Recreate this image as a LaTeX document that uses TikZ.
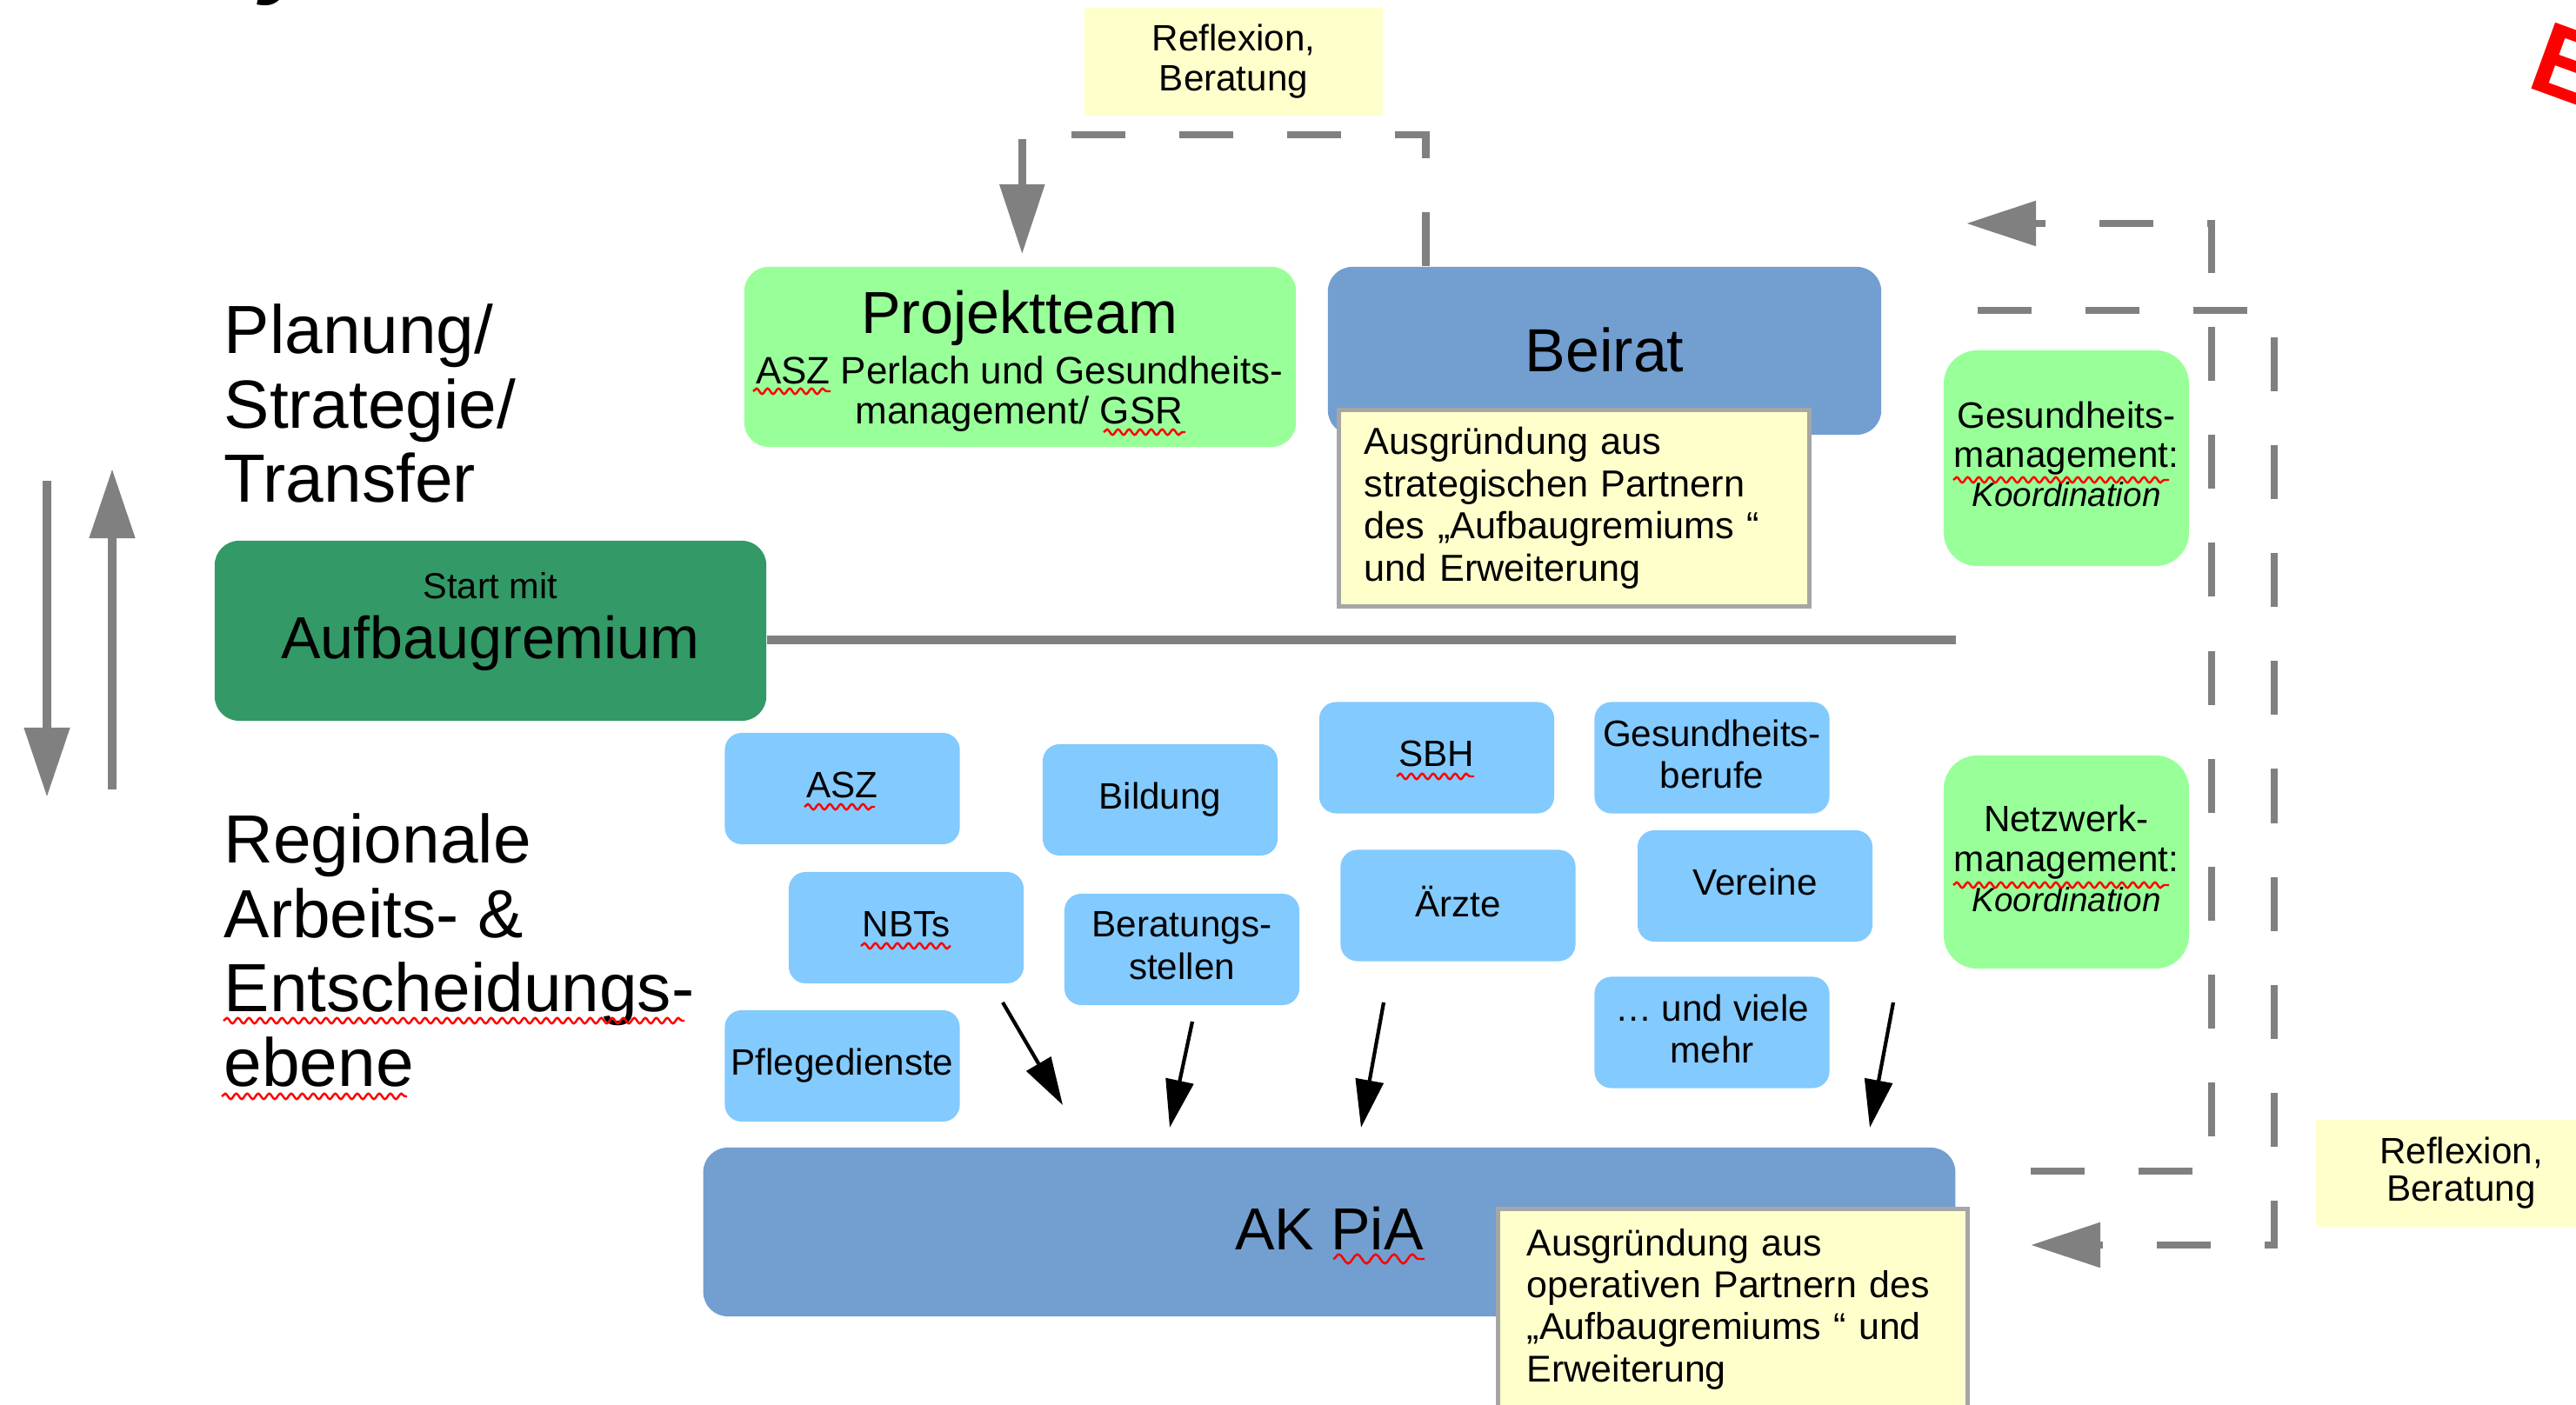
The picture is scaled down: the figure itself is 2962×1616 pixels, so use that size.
\documentclass[tikz,border=0pt]{standalone}
\usepackage{fontspec}
\setmainfont{Liberation Sans}
\usetikzlibrary{arrows.meta,decorations.pathmorphing,calc}
\definecolor{lgreen}{HTML}{99FF99}
\definecolor{dgreen}{HTML}{339966}
\definecolor{bblue}{HTML}{729FCF}
\definecolor{lblue}{HTML}{83CAFF}
\definecolor{nyellow}{HTML}{FFFFCC}
\definecolor{lgray}{HTML}{808080}
\definecolor{ngray}{HTML}{A6A6A6}
\newcommand{\fsz}[2]{\fontsize{#1pt}{#2pt}\selectfont}
\newcommand{\sst}{\rule[-2.5pt]{0pt}{9.5pt}}
\begin{document}
\begin{tikzpicture}[x=0.01cm,y=-0.01cm,
  smallbox/.style={rectangle,rounded corners=5.5pt,fill=lblue,minimum width=2.70cm,minimum height=1.28cm,inner sep=0pt,align=center,font=\fsz{12}{13.8}},
  bigbox/.style={rectangle,rounded corners=8pt,inner sep=0pt},
  gmbox/.style={rectangle,rounded corners=11pt,fill=lgreen,minimum width=2.82cm,inner sep=0pt,align=center},
  notebox/.style={rectangle,fill=nyellow,draw=ngray,line width=1.4pt,inner sep=0pt,align=left},
  reflbox/.style={rectangle,fill=nyellow,inner sep=0pt,align=center},
  bigarrow/.style={draw=lgray,line width=3.1pt,-{Triangle[length=0.8cm,width=0.5cm]}},
  fbline/.style={draw=lgray,line width=2.5pt,dash pattern=on 0.62cm off 0.62cm},
  fbarrow/.style={fbline,-{Triangle[length=0.8cm,width=0.5cm]}},
  blkarrow/.style={draw=black,line width=1.2pt,-{Triangle[length=0.55cm,width=0.32cm]}},
  squig/.style={draw=red,line width=0.7pt,decorate,decoration={snake,amplitude=0.9pt,segment length=3.6pt}},
  lvl/.style={align=left,anchor=base west,inner sep=0pt,font=\fsz{22.3}{24.4}},
  txt/.style={anchor=base,inner sep=0pt},
]
\path[fill=white] (0,0) rectangle (2962,1616);
\useasboundingbox (0,0) rectangle (2962,1616);

% cut-off title fragments
\node[anchor=base west,inner sep=0pt,font=\bfseries\itshape\fsz{33}{36}] (titley) at (300,-17) {y};
\node[anchor=base west,inner sep=0pt,font=\bfseries\fsz{33.4}{36},text=red,rotate=-20] (titlee) at (2903,99) {E};

% left level arrows
\coordinate (dnS) at (54,553); \coordinate (dnE) at (54,917);
\coordinate (upS) at (129,908); \coordinate (upE) at (129,539);
\draw[bigarrow] (dnS) -- (dnE);
\draw[bigarrow] (upS) -- (upE);

% level labels (base anchor = last line)
\node[lvl] (planung) at (257,578) {Planung/\\Strategie/\\Transfer};
\node[lvl,font=\fsz{22.3}{24.3}] (regional) at (257,1249) {Regionale\\Arbeits- \&\\Entscheidungs-\\ebene};

% Aufbaugremium
\node[bigbox,fill=dgreen,minimum width=6.34cm,minimum height=2.07cm] (aufbau) at (564,725.5) {};
\node[txt,font=\fsz{11.8}{13}] (startmit) at (564,689) {Start mit};
\node[txt,font=\fsz{19.4}{22}] (aufbautxt) at (564,758) {Aufbaugremium};
\coordinate (hlend) at (2249,736);
\draw[draw=lgray,line width=2.8pt] (aufbau.east |- hlend) -- (hlend);

% Projektteam
\node[bigbox,fill=lgreen,minimum width=6.34cm,minimum height=2.07cm] (projekt) at (1173,410.5) {};
\node[txt,font=\fsz{19.4}{22}] (projtitle) at (1172,384) {Projektteam};
\node[txt,align=center,font=\fsz{12.5}{13.3}] (projsub) at (1172,488) {ASZ Perlach und Gesundheits-\\management/ GSR};

% Beirat
\node[bigbox,fill=bblue,minimum width=6.36cm,minimum height=1.93cm,font=\fsz{19.9}{22},text height=14pt,text depth=0.6pt] (beirat) at (1845,403.5) {Beirat};
\node[notebox,minimum width=5.40cm,minimum height=2.25cm,text width=4.82cm,font=\fsz{12.3}{13.8}] (beiratnote) at (1810,584.5) {\sst Ausgründung aus\\\sst strategischen Partnern\\\sst des „Aufbaugremiums “\\\sst und Erweiterung};

% Reflexion top + dashed feedback
\node[reflbox,minimum width=3.43cm,minimum height=1.24cm,font=\fsz{12}{13.1}] (refltop) at (1418.5,71) {\sst Reflexion,\\\sst Beratung};
\coordinate (fbtop) at (0,155);
\coordinate (bstart) at ([xshift=1.13cm]beirat.north west);
\coordinate (pend) at ([xshift=3.2cm]projekt.north west);
\draw[fbarrow,shorten >=4pt] (bstart) -- (bstart |- fbtop) -- (pend |- fbtop) -- (pend);

% coordination boxes
\node[gmbox,minimum height=2.48cm,font=\fsz{12}{12.8}] (gm1) at (2376,527) {\sst Gesundheits-\\\sst management:\\\sst\fsz{11}{12.8}\itshape Koordination};
\node[gmbox,minimum height=2.45cm,font=\fsz{12}{13}] (gm2) at (2376,991.5) {\sst Netzwerk-\\\sst management:\\\sst\fsz{11}{13}\itshape Koordination};

% partner boxes
\node[smallbox] (asz) at (968.5,907) {\sst ASZ};
\node[smallbox] (bildung) at (1334,920) {\sst Bildung};
\node[smallbox] (sbh) at (1652,871.5) {\sst SBH};
\node[smallbox] (gesberufe) at (1968.5,871.5) {\sst Gesundheits-\\\sst berufe};
\node[smallbox] (nbts) at (1042,1067) {\sst NBTs};
\node[smallbox] (beratung) at (1359,1092) {\sst Beratungs-\\\sst stellen};
\node[smallbox] (aerzte) at (1676.5,1041.5) {\sst Ärzte};
\node[smallbox] (vereine) at (2018,1019) {\sst Vereine};
\node[smallbox] (pflege) at (968.5,1226) {\sst Pflegedienste};
\node[smallbox] (mehr) at (1968.5,1187.5) {\sst … und viele\\\sst mehr};

% AK PiA
\node[bigbox,fill=bblue,minimum width=14.39cm,minimum height=1.94cm,font=\fsz{19.4}{22},text height=13pt,text depth=1.6pt] (akpia) at (1528.5,1417) {AK PiA};
\node[notebox,minimum width=5.39cm,minimum height=2.29cm,text width=4.73cm,font=\fsz{12.2}{13.75}] (aknote) at (1992.5,1505.5) {\sst Ausgründung aus\\\sst operativen Partnern des\\\sst „Aufbaugremiums “ und\\\sst Erweiterung};

% black arrows towards AK PiA
\coordinate (a1s) at (1153,1153); \coordinate (a1e) at (1222,1271);
\coordinate (a2s) at (1371,1175); \coordinate (a2e) at (1345,1297);
\coordinate (a3s) at (1591,1153); \coordinate (a3e) at (1565,1297);
\coordinate (a4s) at (2177,1153); \coordinate (a4e) at (2150,1297);
\draw[blkarrow] (a1s) -- (a1e);
\draw[blkarrow] (a2s) -- (a2e);
\draw[blkarrow] (a3s) -- (a3e);
\draw[blkarrow] (a4s) -- (a4e);

% right dashed feedback loops
\coordinate (r1s) at (2335,1347); \coordinate (r1c1) at (2543,1347);
\coordinate (r1c2) at (2543,257); \coordinate (r1e) at (2261,257);
\draw[fbarrow] (r1s) -- (r1c1) -- (r1c2) -- (r1e);
\coordinate (r2s) at (2274,357); \coordinate (r2c1) at (2615,357);
\coordinate (r2c2) at (2615,1432); \coordinate (r2e) at (2335,1432);
\draw[fbarrow] (r2s) -- (r2c1) -- (r2c2) -- (r2e);
\node[reflbox,minimum width=3.34cm,minimum height=1.23cm,font=\fsz{12}{12.2}] (reflbot) at (2830,1349.5) {\sst Reflexion,\\\sst Beratung};

% spell-check underlines
\draw[squig] (257,1174) -- (787,1174);
\draw[squig] (255,1261) -- (468,1261);
\draw[squig] (866,450) -- (955,450);
\draw[squig] (1269,497) -- (1363,497);
\draw[squig] (2246,552) -- (2494,552);
\draw[squig] (2246,1018) -- (2494,1018);
\draw[squig] (925,928) -- (1006,928);
\draw[squig] (1606,893) -- (1695,893);
\draw[squig] (990,1088) -- (1093,1088);
\draw[squig,decoration={snake,amplitude=1.5pt,segment length=6pt}] (1533,1448) -- (1638,1448);
\end{tikzpicture}
\end{document}
